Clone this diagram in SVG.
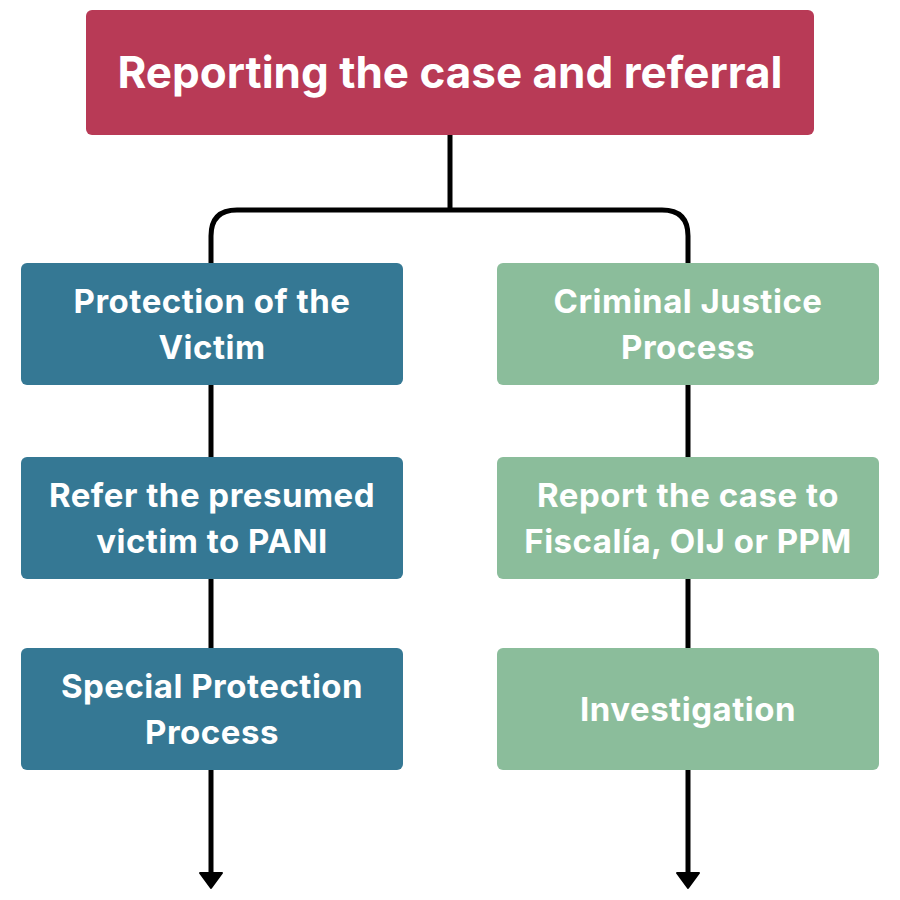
<svg xmlns="http://www.w3.org/2000/svg" width="900" height="900" viewBox="0 0 900 900">
<style>
.t{font-family:Inter,"Open Sans","Liberation Sans",sans-serif;font-weight:700;fill:#fff;text-anchor:middle}
.s{font-size:33px;letter-spacing:0.5px}
.c{fill:none;stroke:#000;stroke-width:5}
.ah{fill:#000;stroke:#000;stroke-width:2;stroke-linejoin:round}
.blue{fill:#357894}
.green{fill:#8BBD9B}
</style>
<rect width="900" height="900" fill="#fff"/>
<g id="connectors">
<path class="c" d="M450,135 V210"/>
<path class="c" d="M211,263 V236 Q211,210 237,210 H662 Q688,210 688,236 V263"/>
<path class="c" d="M211,385 V457 M211,579 V648"/>
<path class="c" d="M688,385 V457 M688,579 V648"/>
<path class="c" d="M211,770 V874"/>
<path class="c" d="M688,770 V874"/>
<polygon class="ah" points="200,873 222,873 211,888"/>
<polygon class="ah" points="677,873 699,873 688,888"/>
</g>
<g id="n0">
<rect x="86" y="10" width="728" height="125" rx="6" fill="#B83A56"/>
<text class="t" x="450" y="88" font-size="44">Reporting the case and referral</text>
</g>
<g id="n1">
<rect class="blue" x="21" y="263" width="382" height="122" rx="6"/>
<text class="t s" x="212" y="313">Protection of the</text>
<text class="t s" x="212" y="359">Victim</text>
</g>
<g id="n2">
<rect class="blue" x="21" y="457" width="382" height="122" rx="6"/>
<text class="t s" x="212" y="507">Refer the presumed</text>
<text class="t s" x="212" y="553">victim to PANI</text>
</g>
<g id="n3">
<rect class="blue" x="21" y="648" width="382" height="122" rx="6"/>
<text class="t s" x="212" y="698">Special Protection</text>
<text class="t s" x="212" y="744">Process</text>
</g>
<g id="n4">
<rect class="green" x="497" y="263" width="382" height="122" rx="6"/>
<text class="t s" x="688" y="313">Criminal Justice</text>
<text class="t s" x="688" y="359">Process</text>
</g>
<g id="n5">
<rect class="green" x="497" y="457" width="382" height="122" rx="6"/>
<text class="t s" x="688" y="507">Report the case to</text>
<text class="t s" x="688" y="553">Fiscalía, OIJ or PPM</text>
</g>
<g id="n6">
<rect class="green" x="497" y="648" width="382" height="122" rx="6"/>
<text class="t s" x="688" y="721">Investigation</text>
</g>
</svg>
